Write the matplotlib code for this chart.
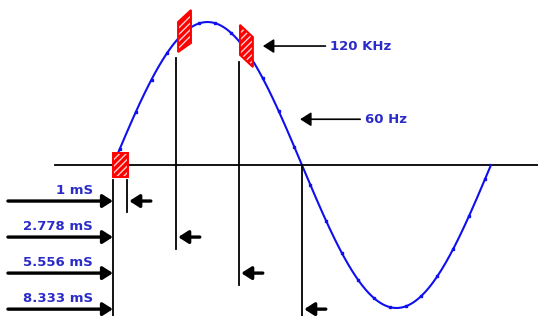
import numpy as np
import matplotlib
matplotlib.use("Agg")
import matplotlib.pyplot as plt
from matplotlib.patches import Polygon

# --- donnees du schema (temps en ms, amplitude normalisee) ---
FREQ_HZ = 60
PERIOD_MS = 1000 / FREQ_HZ
sample_times = [0.62, 2.778, 5.556, 8.333]          # lignes verticales
sample_labels = ["1 mS", "2.778 mS", "5.556 mS", "8.333 mS"]
line_tops = [-0.105, 0.75, 0.72, 0.0]                # haut de chaque ligne
# fenetres d'echantillonnage (t0, t1, bas/haut gauche, bas/haut droite)
windows = [
    (0.0, 0.66, (-0.084, 0.084), (-0.084, 0.084)),
    (2.87, 3.44, (0.79, 1.0), (0.853, 1.084)),
    (5.6, 6.17, (0.77, 0.98), (0.685, 0.895)),
]
freq_labels = ["120 KHz", "60 Hz"]
freq_label_y = [0.832, 0.32]
freq_arrow_tip = [6.61, 8.25]

BLUE = "#1010ee"
TXT = "#2b2bc8"

fig = plt.figure(figsize=(5.38, 3.16), dpi=100)
ax = fig.add_axes([0, 0, 1, 1])
ax.set_xlim(-4.98, 18.74)
ax.set_ylim(-1.056, 1.154)
ax.axis("off")

# axe horizontal
ax.plot([-2.56, 18.74], [0, 0], color="black", lw=1.3, zorder=1)

# sinusoide 60 Hz
t = np.linspace(0, PERIOD_MS, 600)
ax.plot(t, np.sin(2 * np.pi * t / PERIOD_MS), color=BLUE, lw=1.5, zorder=2)
td = np.arange(0.3, PERIOD_MS, 0.7)
ax.plot(td, np.sin(2 * np.pi * td / PERIOD_MS), ls="none", marker="s", ms=1.6, color=BLUE, zorder=2)

# fenetres hachurees
for t0, t1, (lb, lt), (rb, rt) in windows:
    pts = [(t0, lb), (t1, rb), (t1, rt), (t0, lt)]
    ax.add_patch(Polygon(pts, closed=True, fc="red", ec="#ffd0d0", hatch="/////", lw=0, zorder=4))
    ax.add_patch(Polygon(pts, closed=True, fill=False, ec="red", lw=1.4, zorder=5))

# ligne de reference t=0
row_step = 0.252
ax.plot([0, 0], [-0.105, -1.056], color="black", lw=1.3, zorder=3)

arrow_big = dict(arrowstyle="-|>,head_length=0.5,head_width=0.32", lw=2.4, color="black",
                 shrinkA=0, shrinkB=0, mutation_scale=12)
arrow_thin = dict(arrowstyle="-|>,head_length=0.55,head_width=0.35", lw=1.2, color="black",
                  shrinkA=0, shrinkB=0, mutation_scale=12)

for i, (ts, lab, top) in enumerate(zip(sample_times, sample_labels, line_tops)):
    y = -row_step * (i + 1)
    ax.plot([ts, ts], [top, y - 0.08], color="black", lw=1.3, zorder=3)
    ax.annotate("", xy=(0, y), xytext=(-4.63, y), arrowprops=arrow_big, zorder=6)
    ax.annotate("", xy=(ts + 0.1, y), xytext=(ts + 1.05, y), arrowprops=arrow_big, zorder=6)
    ax.text(-0.88, y + 0.075, lab, ha="right", va="center", color=TXT,
            fontsize=9.5, fontweight="bold")

# etiquettes de frequence
for lab, y, tip in zip(freq_labels, freq_label_y, freq_arrow_tip):
    x_txt = 9.57 if lab.endswith("KHz") else 11.1
    ax.annotate("", xy=(tip, y), xytext=(x_txt - 0.2, y), arrowprops=arrow_thin)
    ax.text(x_txt, y, lab, ha="left", va="center", color=TXT, fontsize=9.5, fontweight="bold")

fig.savefig("out.png", dpi=100)
